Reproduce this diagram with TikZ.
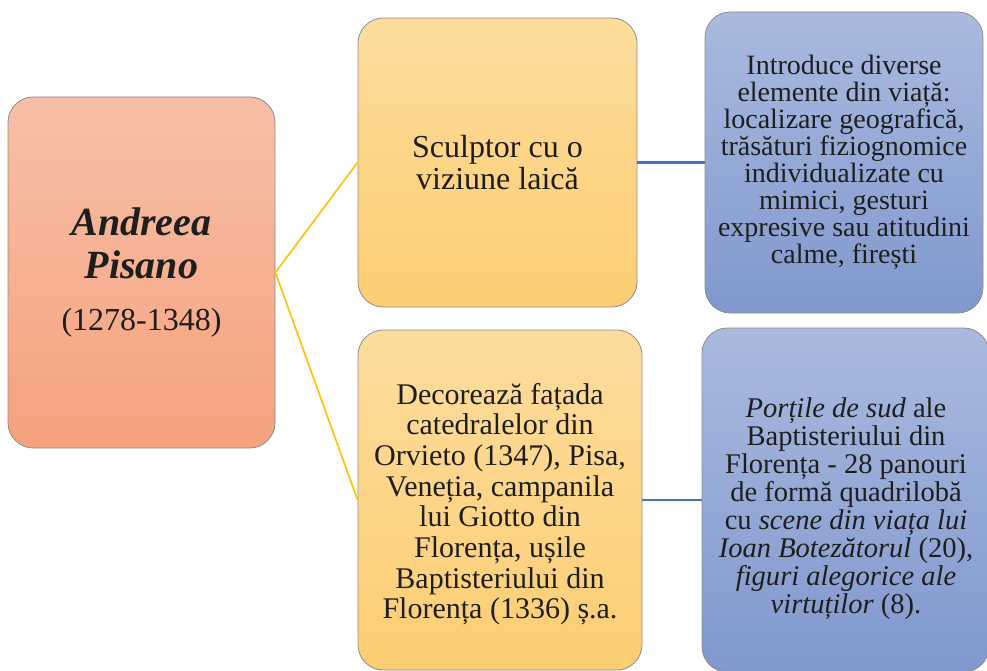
\documentclass[tikz,border=0pt]{standalone}
\usepackage{fontspec}
\setmainfont{Liberation Serif}
\definecolor{salT}{HTML}{F7BFA6}
\definecolor{salB}{HTML}{F5A27E}
\definecolor{yelT}{HTML}{FDDC9D}
\definecolor{yelB}{HTML}{FCCE73}
\definecolor{bluT}{HTML}{AABAE0}
\definecolor{bluB}{HTML}{8098CD}
\definecolor{yline}{HTML}{FFC000}
\definecolor{bline}{HTML}{4472C4}
\definecolor{txt}{HTML}{1E1E1E}
\begin{document}
\begin{tikzpicture}[x=0.75pt,y=-0.75pt,
  card/.style={draw=black!45, line width=0.6pt, rounded corners=19pt, align=center, text=txt, inner sep=0pt},
  salcard/.style={card, top color=salT, bottom color=salB},
  yelcard/.style={card, top color=yelT, bottom color=yelB},
  blucard/.style={card, top color=bluT, bottom color=bluB},
  cardtext/.style={align=center, text=txt, inner sep=0pt},
  yconn/.style={draw=yline, line width=1.2pt},
  bconn/.style={draw=bline, line width=1.6pt}]
\useasboundingbox (0,0) rectangle (987,670);
\begin{scope}
\clip (0,0) rectangle (987,670);
\node[salcard, minimum width=200.25pt, minimum height=263.25pt,
  font=\fontsize{30}{32}\selectfont] (main) at (141.5,272.5)
  {\textbf{\textit{Andreea}}\\ \textbf{\textit{Pisano}}\\[7pt] \fontsize{24}{26}\selectfont (1278-1348)};
\node[yelcard, minimum width=209.25pt, minimum height=216.75pt,
  font=\fontsize{24}{24.5}\selectfont] (sculp) at (497.5,162.5)
  {Sculptor cu o\\ viziune laică};
\node[blucard, minimum width=208.5pt, minimum height=225.75pt,
  font=\fontsize{21}{20.2}\selectfont] (intro) at (844,162.5)
  {Introduce diverse\\ elemente din viață:\\ localizare geografică,\\ trăsături fiziognomice\\ individualizate cu\\ mimici, gesturi\\ expresive sau atitudini\\ calme, firești};
\node[yelcard, minimum width=213pt, minimum height=255pt] (decor) at (500,500) {};
\node[cardtext, font=\fontsize{22.5}{23}\selectfont] (decortext) at (500,504)
  {Decorează fațada\\ catedralelor din\\ Orvieto (1347), Pisa,\\ Veneția, campanila\\ lui Giotto din\\ Florența, ușile\\ Baptisteriului din\\ Florența (1336) ș.a.};
\node[blucard, minimum width=215.25pt, minimum height=258pt] (porti) at (845.5,500) {};
\node[cardtext, font=\fontsize{21.4}{21}\selectfont] (portitext) at (846,509)
  {\textit{Porțile de sud} ale\\ Baptisteriului din\\ Florența - 28 panouri\\ de formă quadrilobă\\ cu \textit{scene din viața lui}\\ \textit{Ioan Botezătorul} (20),\\ \textit{figuri alegorice ale}\\ \textit{virtuților} (8).};
\end{scope}
\draw[yconn] (sculp.west) -- (main.east) -- (decor.west);
\draw[bconn] (sculp.east) -- (intro.west);
\draw[bconn] (decor.east) -- (porti.west);
\end{tikzpicture}
\end{document}
